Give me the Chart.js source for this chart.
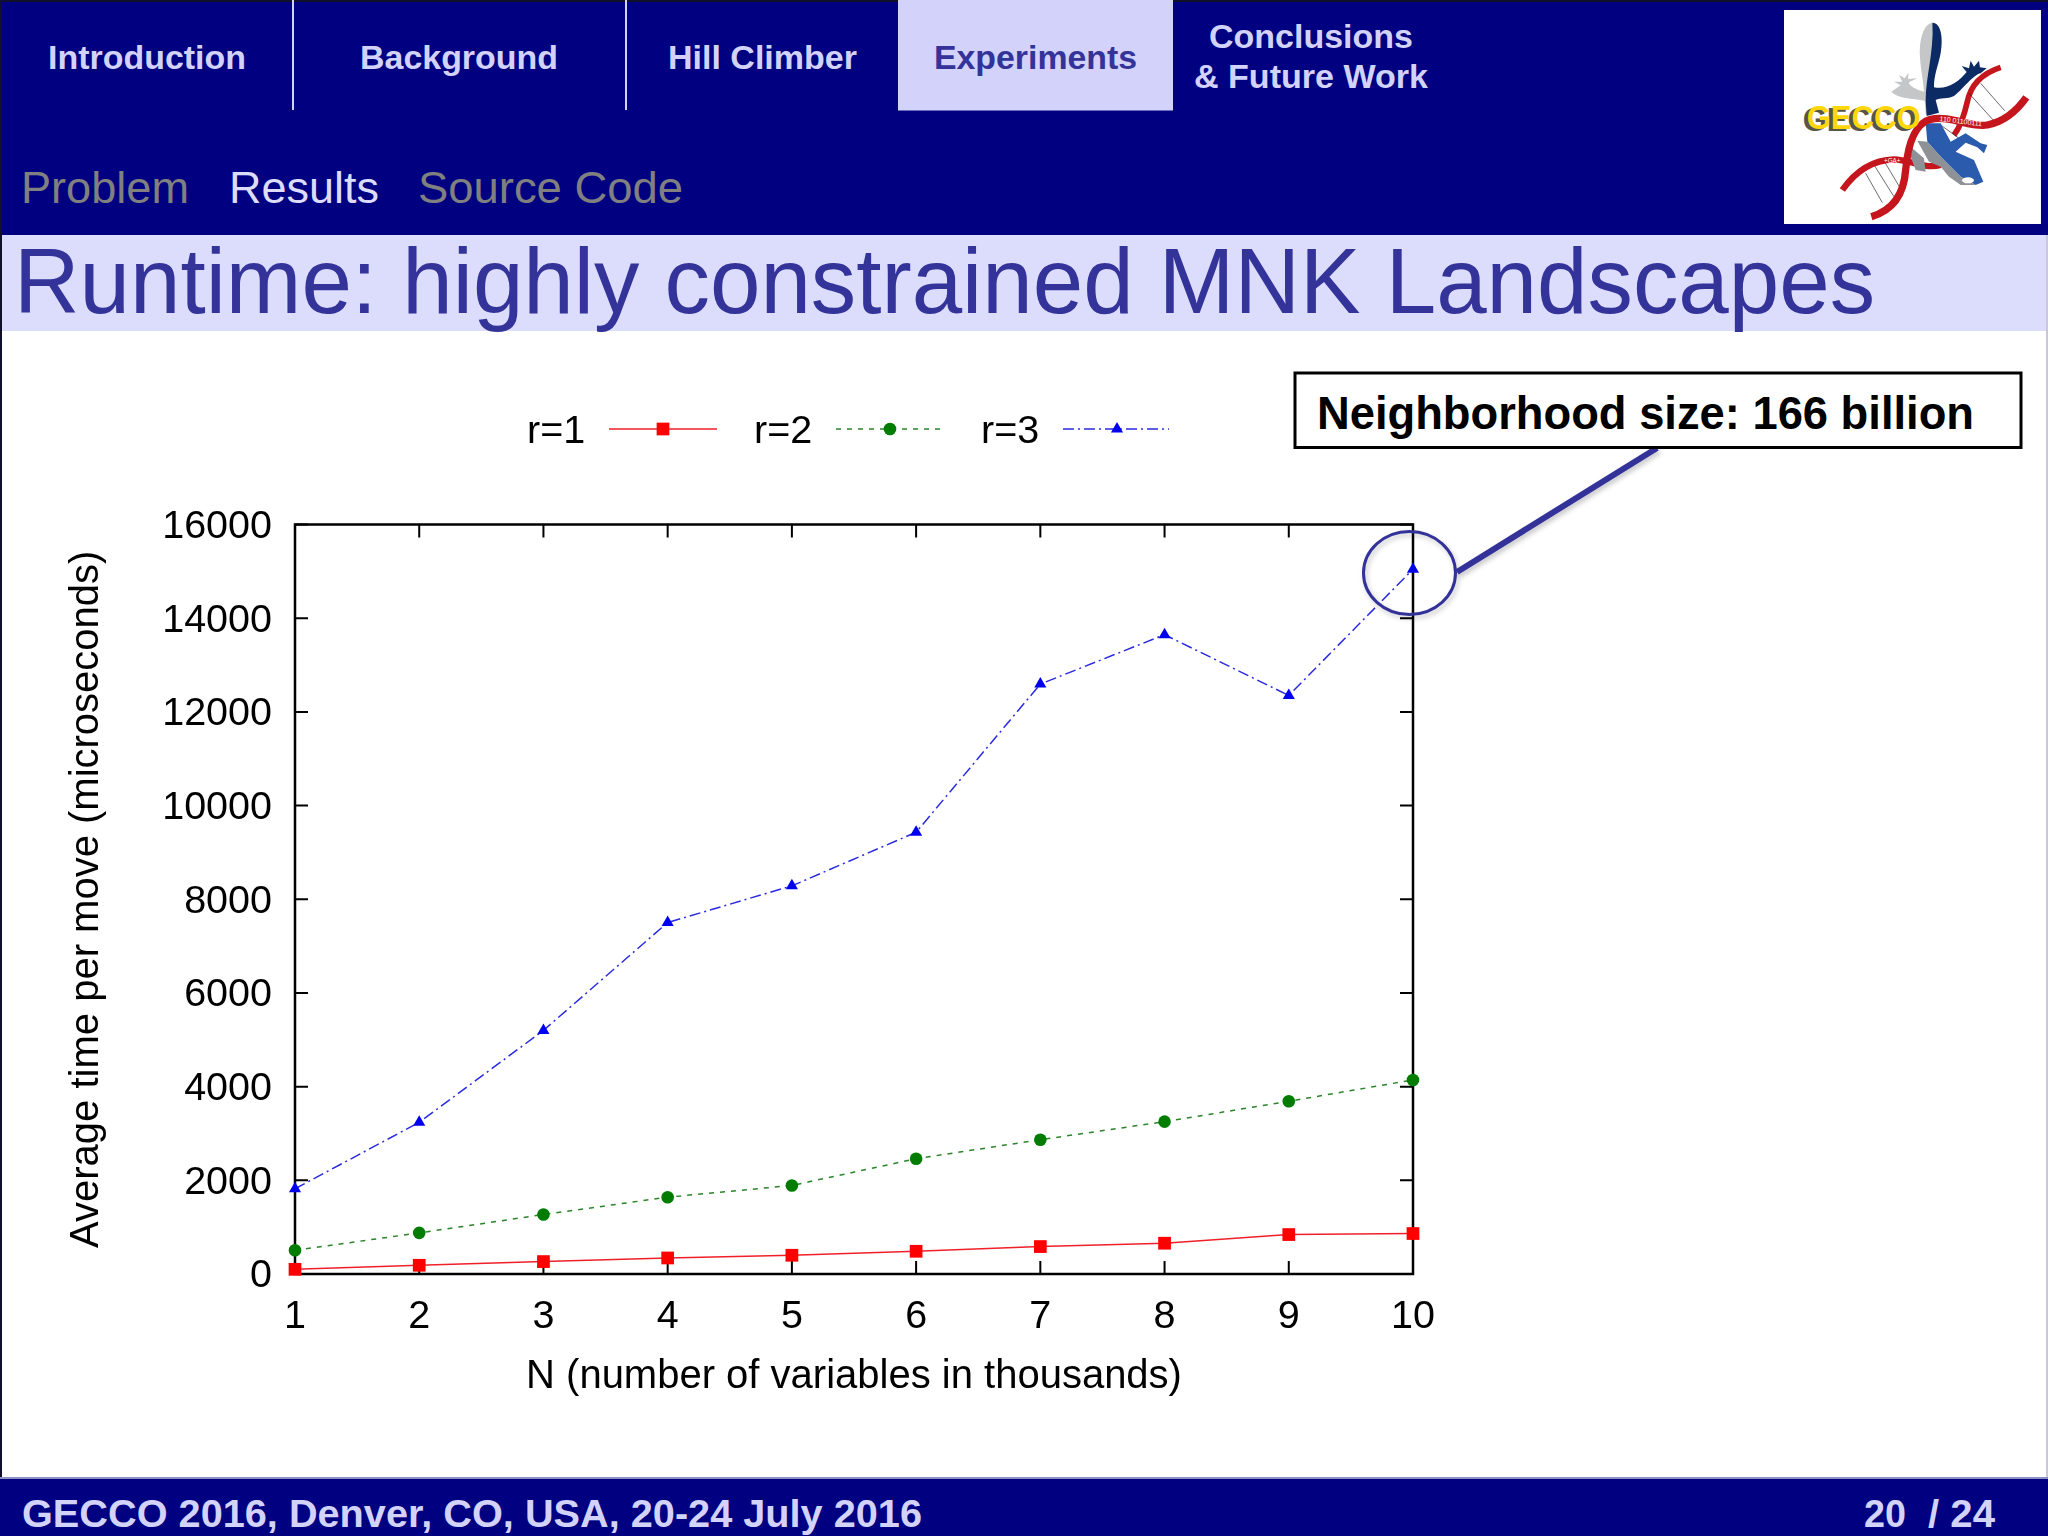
<!DOCTYPE html>
<html>
<head>
<meta charset="utf-8">
<title>Runtime: highly constrained MNK Landscapes</title>
<script src="https://cdn.jsdelivr.net/npm/chart.js@4/dist/chart.umd.js"></script>
<style>
html,body{margin:0;padding:0;background:#fff;width:2048px;height:1536px;overflow:hidden}
svg,canvas{position:absolute;left:0;top:0;display:block}
text{font-family:"Liberation Sans",Arial,sans-serif}
</style>
</head>
<body>
<svg id="chrome" width="2048" height="1536" viewBox="0 0 2048 1536">
  <rect x="0" y="0" width="2048" height="1536" fill="#fff"/>
  <rect x="0" y="0" width="2048" height="235" fill="#000080"/>
  <rect x="0" y="0" width="2048" height="2" fill="#10102a"/>
  <rect x="0" y="235" width="2048" height="96" fill="#dcdcfc"/>
  <rect x="898" y="0" width="275" height="110.5" fill="#d2d2fb"/>
  <rect x="292" y="0" width="2" height="110" fill="#d2d2fb"/>
  <rect x="625" y="0" width="2" height="110" fill="#d2d2fb"/>
  <g font-weight="700" font-size="34" fill="#d2d2fb">
    <text x="48" y="69" textLength="198" lengthAdjust="spacingAndGlyphs">Introduction</text>
    <text x="360" y="69" textLength="198" lengthAdjust="spacingAndGlyphs">Background</text>
    <text x="668" y="69" textLength="189" lengthAdjust="spacingAndGlyphs">Hill Climber</text>
    <text x="934" y="69" textLength="203" lengthAdjust="spacingAndGlyphs" fill="#333399">Experiments</text>
    <text x="1209" y="48" textLength="204" lengthAdjust="spacingAndGlyphs">Conclusions</text>
    <text x="1194" y="88" textLength="234" lengthAdjust="spacingAndGlyphs">&amp; Future Work</text>
  </g>
  <g font-size="44">
    <text x="21" y="203" fill="#808080" textLength="168" lengthAdjust="spacingAndGlyphs">Problem</text>
    <text x="229" y="203" fill="#dcdcfc" textLength="150" lengthAdjust="spacingAndGlyphs">Results</text>
    <text x="418" y="203" fill="#808080" textLength="265" lengthAdjust="spacingAndGlyphs">Source Code</text>
  </g>
  <text x="14" y="313" font-size="93" fill="#333399" textLength="1861" lengthAdjust="spacingAndGlyphs">Runtime: highly constrained MNK Landscapes</text>

  <g transform="translate(1784 10) scale(0.3333)">
    <rect x="0" y="0" width="771" height="642" fill="#fff"/>
    <path d="M650,172 C595,190 560,225 550,275 C540,320 530,350 510,375" stroke="#c4161c" stroke-width="17" fill="none"/>
    <path d="M245,490 L295,578 M272,468 L330,560 M302,456 L355,545 M555,250 L632,335 M590,220 L662,302 M470,345 L525,385" stroke="#222" stroke-width="2" fill="none"/>
    <path d="M175,540 C210,490 260,450 330,448 C380,450 420,478 470,465" stroke="#c4161c" stroke-width="19" fill="none"/>
    <path d="M445,38 C418,42 405,90 408,140 C410,180 418,210 420,245 C395,240 372,225 375,217 L400,205 L372,207 L374,188 L362,205 L345,195 L355,215 L330,215 L350,226 L322,245 C340,265 385,265 422,272 L425,312 L445,312 Z" fill="#c4c6c8"/>
    <path d="M445,38 C472,38 478,85 470,130 C462,170 450,195 450,232 C490,240 525,215 548,186 L533,168 L555,175 L560,152 L570,170 L585,152 L588,172 L608,175 L590,190 C570,192 530,245 510,258 C490,268 470,262 455,270 L465,308 L428,318 L425,272 C425,200 450,130 445,38 Z" fill="#0c2a63"/>
    <path d="M425,340 L470,340 L500,395 L545,370 L590,400 L610,405 L600,430 L580,412 L545,398 L515,425 L570,450 L598,515 L575,525 L530,500 L470,440 L430,395 Z" fill="#2b5bad"/>
    <path d="M400,392 L430,395 L470,440 L530,500 L575,525 L530,525 L495,500 L470,470 L435,455 Z M385,415 L420,445 L425,485 L395,480 L380,440 Z" fill="#8e9296"/>
    <ellipse cx="552" cy="511" rx="18" ry="9" fill="#fff"/>
    <path d="M262,620 C330,600 360,550 365,480 C372,400 395,340 440,328 C500,315 560,355 610,345 C660,335 700,300 727,262" stroke="#c4161c" stroke-width="22" fill="none"/>
    <text x="466" y="333" font-size="21" fill="#fff" transform="rotate(7 466 333)">110 01100111</text>
    <text x="300" y="459" font-size="19" fill="#fff">+GA+</text>
    <text x="56" y="362" font-size="102" font-weight="700" fill="#55554c" textLength="342" lengthAdjust="spacingAndGlyphs">GECCO</text>
    <text x="68" y="358" font-size="102" font-weight="700" fill="#ffd60a" textLength="342" lengthAdjust="spacingAndGlyphs">GECCO</text>
  </g>

  <rect x="0" y="1477" width="2048" height="59" fill="#000080"/>
  <rect x="0" y="1477" width="2048" height="2" fill="#8f8fc4"/>
  <g font-weight="700" font-size="38" fill="#d2d2fb">
    <text x="22" y="1527" textLength="900" lengthAdjust="spacingAndGlyphs">GECCO 2016, Denver, CO, USA, 20-24 July 2016</text>
    <text x="1864" y="1527" textLength="42" lengthAdjust="spacingAndGlyphs">20</text>
    <text x="1928" y="1527" textLength="67" lengthAdjust="spacingAndGlyphs">/ 24</text>
  </g>
  <rect x="0" y="0" width="2" height="1477" fill="#10102a"/>
  <rect x="2046" y="235" width="2" height="1242" fill="#c8c8d8"/>
</svg>

<canvas id="chart" width="2048" height="1536"></canvas>

<svg id="callout" width="2048" height="1536" viewBox="0 0 2048 1536">
  <defs>
    <filter id="soft" x="-20%" y="-20%" width="140%" height="140%">
      <feDropShadow dx="2" dy="3" stdDeviation="2.5" flood-color="#000" flood-opacity="0.22"/>
    </filter>
  </defs>
  <ellipse cx="1409.5" cy="573" rx="46" ry="41.5" fill="none" stroke="#333399" stroke-width="3" filter="url(#soft)"/>
  <path d="M1457,572 L1657,448" stroke="#333399" stroke-width="6" fill="none" filter="url(#soft)"/>
  <rect x="1295" y="373" width="726" height="74.5" fill="#fff" stroke="#000" stroke-width="3"/>
  <text x="1317" y="429" font-size="46" font-weight="700" fill="#000" textLength="657" lengthAdjust="spacingAndGlyphs">Neighborhood size: 166 billion</text>
</svg>

<script>
const categories = ['1','2','3','4','5','6','7','8','9','10'];
const yTicks = [0,2000,4000,6000,8000,10000,12000,14000,16000];
const seriesNames = ['r=1','r=2','r=3'];
const r1Values = [100,186,265,342,400,485,586,657,842,864];
const r2Values = [507,877,1270,1640,1890,2460,2867,3252,3687,4143];
const r3Values = [1820,3238,5200,7503,8286,9430,12593,13648,12350,15045];
const xTitle = 'N (number of variables in thousands)';
const yTitle = 'Average time per move (microseconds)';

const FONT = '"Liberation Sans", Arial, sans-serif';
const AXIS_SIZE = 39.5;
const TITLE_SIZE = 40;

const frameAndTicks = {
  id: 'frameAndTicks',
  beforeDraw(chart) {
    chart.scales.y.getLabelItems().forEach(it => { if (!it._shifted) { it.textOffset += 2.5; it._shifted = true; } });
  },
  beforeDatasetsDraw(chart) {
    const {ctx, chartArea: a, scales: {x, y}} = chart;
    const len = 13;
    ctx.save();
    ctx.strokeStyle = '#000';
    ctx.lineWidth = 2;
    ctx.beginPath();
    x.ticks.forEach((t, i) => {
      const px = x.getPixelForTick(i);
      ctx.moveTo(px, a.bottom); ctx.lineTo(px, a.bottom - len);
      ctx.moveTo(px, a.top); ctx.lineTo(px, a.top + len);
    });
    y.ticks.forEach((t, i) => {
      const py = y.getPixelForTick(i);
      ctx.moveTo(a.left, py); ctx.lineTo(a.left + len, py);
      ctx.moveTo(a.right, py); ctx.lineTo(a.right - len, py);
    });
    ctx.stroke();
    ctx.lineWidth = 2.5;
    ctx.strokeRect(a.left, a.top, a.right - a.left, a.bottom - a.top);
    ctx.restore();
  }
};

const lineLegend = {
  id: 'lineLegend',
  afterDraw(chart) {
    const {ctx} = chart;
    const slots = [
      {text: 527, x0: 609, x1: 717, mark: 663},
      {text: 754, x0: 836, x1: 940, mark: 890},
      {text: 981, x0: 1063, x1: 1169, mark: 1117}
    ];
    const ly = 429;
    ctx.save();
    chart.data.datasets.forEach((ds, i) => {
      const s = slots[i];
      ctx.fillStyle = '#000';
      ctx.font = AXIS_SIZE + 'px ' + FONT;
      ctx.textAlign = 'left';
      ctx.textBaseline = 'alphabetic';
      ctx.fillText(ds.label, s.text, 443);
      ctx.strokeStyle = ds.borderColor;
      ctx.lineWidth = ds.borderWidth;
      ctx.setLineDash(ds.borderDash || []);
      ctx.beginPath();
      ctx.moveTo(s.x0, ly);
      ctx.lineTo(s.x1, ly);
      ctx.stroke();
      ctx.setLineDash([]);
      ctx.fillStyle = ds.pointBackgroundColor;
      Chart.helpers.drawPoint(ctx, {pointStyle: ds.pointStyle, rotation: 0, radius: ds.pointRadius, borderWidth: 0}, s.mark, ly);
    });
    ctx.restore();
  }
};

new Chart(document.getElementById('chart'), {
  type: 'line',
  data: {
    labels: categories,
    datasets: [
      {label: seriesNames[0], data: r1Values, borderColor: '#f0202a', borderWidth: 1.5, pointStyle: 'rect', pointRadius: 9, pointBackgroundColor: '#ff0000', pointBorderWidth: 0, clip: false, tension: 0},
      {label: seriesNames[1], data: r2Values, borderColor: '#2a842a', borderWidth: 1.5, borderDash: [5, 6], pointStyle: 'circle', pointRadius: 6.3, pointBackgroundColor: '#007d00', pointBorderWidth: 0, clip: false, tension: 0},
      {label: seriesNames[2], data: r3Values, borderColor: '#2a2ae0', borderWidth: 1.5, borderDash: [11, 4, 2, 4], pointStyle: 'triangle', pointRadius: 7, pointBackgroundColor: '#0000f0', pointBorderWidth: 0, clip: false, tension: 0}
    ]
  },
  plugins: [frameAndTicks, lineLegend],
  options: {
    responsive: false,
    devicePixelRatio: 1,
    animation: false,
    layout: {padding: {left: 0, right: 635, top: 524.5, bottom: 135}},
    plugins: {legend: {display: false}, tooltip: {enabled: false}, title: {display: false}},
    scales: {
      x: {
        type: 'category',
        offset: false,
        grid: {display: false},
        border: {display: false},
        ticks: {color: '#000', font: {family: FONT, size: AXIS_SIZE}, padding: 11, maxRotation: 0, autoSkip: false},
        title: {display: true, text: xTitle, color: '#000', font: {family: FONT, size: TITLE_SIZE}, padding: {top: 10, bottom: 0}},
        afterFit(s) { s.height = 127; }
      },
      y: {
        min: 0,
        max: 16000,
        afterBuildTicks(s) { s.ticks = yTicks.map(v => ({value: v})); },
        grid: {display: false},
        border: {display: false},
        ticks: {color: '#000', font: {family: FONT, size: AXIS_SIZE}, padding: 15, callback: v => String(v)},
        title: {display: true, text: yTitle, color: '#000', font: {family: FONT, size: TITLE_SIZE}, padding: {top: 63, bottom: 0}},
        afterFit(s) { s.width = 295; }
      }
    }
  }
});
</script>
</body>
</html>
